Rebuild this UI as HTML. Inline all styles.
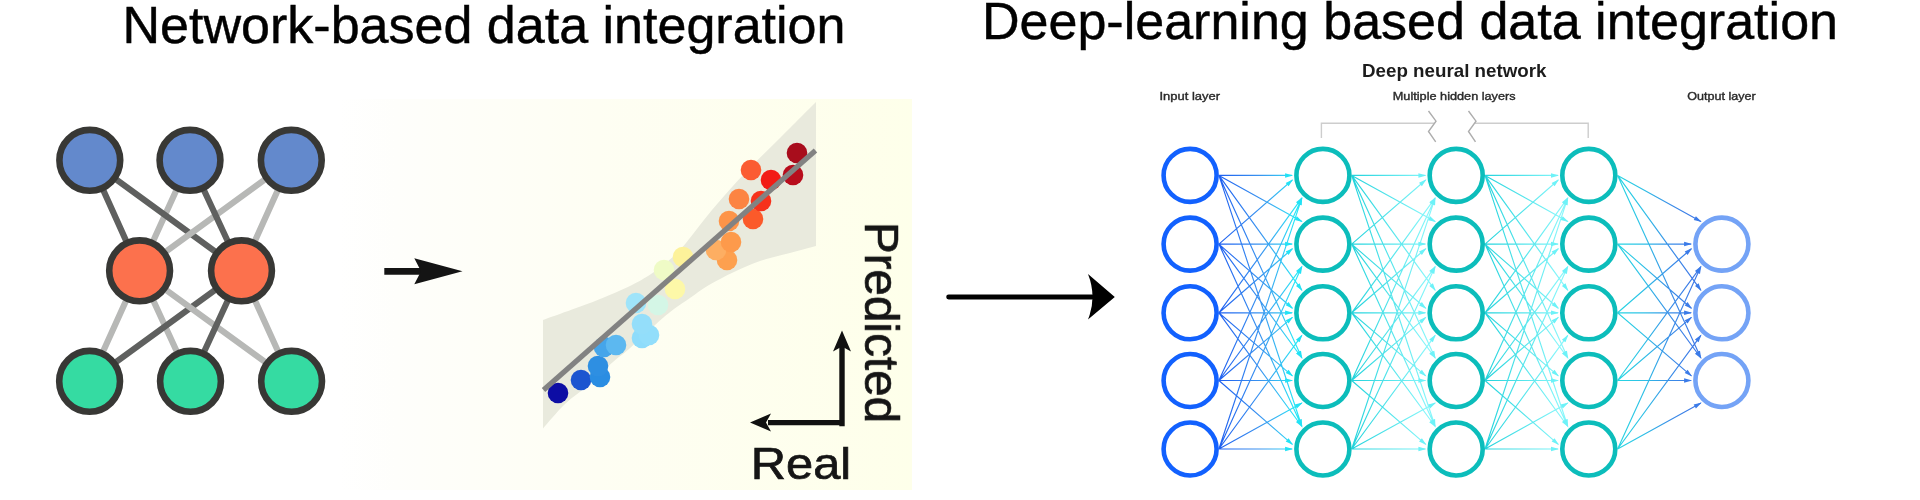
<!DOCTYPE html>
<html lang="en"><head><meta charset="utf-8"><title>Data integration</title>
<style>
html,body{margin:0;padding:0;background:#fff;}
body{width:1920px;height:500px;overflow:hidden;font-family:"Liberation Sans",Arial,sans-serif;}
svg{display:block;}
text{font-family:"Liberation Sans",Arial,sans-serif;}
</style></head><body>
<svg width="1920" height="500" viewBox="0 0 1920 500">
<defs>
<filter id="soft" x="-5%" y="-5%" width="110%" height="110%"><feGaussianBlur stdDeviation="0.7"/></filter>
<linearGradient id="ivory" x1="0" y1="0" x2="1" y2="0">
<stop offset="0" stop-color="#ffffff"/><stop offset="0.10" stop-color="#fefefb"/><stop offset="0.45" stop-color="#fefef3"/><stop offset="1" stop-color="#feffea"/>
</linearGradient>
<linearGradient id="g0" gradientUnits="userSpaceOnUse" x1="1218.9" y1="0" x2="1294.1" y2="0"><stop offset="0" stop-color="#1f5ff0"/><stop offset="0.55" stop-color="#3a94f0"/><stop offset="0.85" stop-color="#35c6f4"/><stop offset="1" stop-color="#28e4f6"/></linearGradient>
<linearGradient id="g1" gradientUnits="userSpaceOnUse" x1="1351.7" y1="0" x2="1427.4" y2="0"><stop offset="0" stop-color="#22d3dc"/><stop offset="1" stop-color="#86f6fa"/></linearGradient>
<linearGradient id="g2" gradientUnits="userSpaceOnUse" x1="1485.0" y1="0" x2="1560.0" y2="0"><stop offset="0" stop-color="#22d3dc"/><stop offset="1" stop-color="#86f6fa"/></linearGradient>
<linearGradient id="g3" gradientUnits="userSpaceOnUse" x1="1617.6" y1="0" x2="1693.1" y2="0"><stop offset="0" stop-color="#27d6e2"/><stop offset="0.35" stop-color="#2fbfe6"/><stop offset="0.7" stop-color="#3a8de8"/><stop offset="1" stop-color="#3c78e6"/></linearGradient>
</defs>
<rect x="0" y="0" width="1920" height="500" fill="#ffffff"/>
<!-- scatter panel background -->
<rect x="338" y="99" width="574" height="391" fill="url(#ivory)"/>

<g opacity="0.999">
<!-- titles -->
<text x="122.5" y="43.2" font-size="51.2" fill="#000" stroke="#000" stroke-width="0.45" textLength="723" lengthAdjust="spacingAndGlyphs">Network-based data integration</text>
<text x="982" y="39.4" font-size="51.2" fill="#000" stroke="#000" stroke-width="0.45" textLength="856" lengthAdjust="spacingAndGlyphs">Deep-learning based data integration</text>

<!-- left tri-layer network -->
<g filter="url(#soft)">
<g stroke-width="6.2" stroke-linecap="round" fill="none">
 <path stroke="#b7b8b6" d="M190 160.3L139.6 270.8M291.3 160.3L241.5 270.8"/>
 <path stroke="#5f615f" d="M89.8 160.3L139.6 270.8M89.8 160.3L241.5 270.8"/>
 <path stroke="#b7b8b6" d="M291.3 160.3L139.6 270.8"/>
 <path stroke="#5f615f" d="M190 160.3L241.5 270.8"/>
 <path stroke="#b7b8b6" d="M139.6 270.8L89.6 381.3M139.6 270.8L190.5 381.3M241.5 270.8L291.6 381.3"/>
 <path stroke="#5f615f" d="M241.5 270.8L89.6 381.3"/>
 <path stroke="#b7b8b6" d="M139.6 270.8L291.6 381.3"/>
 <path stroke="#5f615f" d="M241.5 270.8L190.5 381.3"/>
</g>
<g stroke="#383836" stroke-width="6.6">
 <circle cx="89.8" cy="160.3" r="30.4" fill="#6489cc"/>
 <circle cx="190" cy="160.3" r="30.4" fill="#6489cc"/>
 <circle cx="291.3" cy="160.3" r="30.4" fill="#6489cc"/>
 <circle cx="139.6" cy="270.8" r="30.4" fill="#fc714e"/>
 <circle cx="241.5" cy="270.8" r="30.4" fill="#fc714e"/>
 <circle cx="89.6" cy="381.3" r="30.4" fill="#34dba2"/>
 <circle cx="190.5" cy="381.3" r="30.4" fill="#34dba2"/>
 <circle cx="291.6" cy="381.3" r="30.4" fill="#34dba2"/>
</g>
</g>

<!-- small arrow -->
<path d="M384.3 268H421V274.7H384.3Z" fill="#141414"/>
<path d="M462.5 271.3L414.3 258.3L421 271.3L414.3 284.3Z" fill="#141414"/>

<!-- scatter: confidence band, points, fit line -->
<g filter="url(#soft)">
<path d="M543 320C547.8 318.2 562.5 313.0 572.0 309.5C581.5 306.0 590.0 303.1 600.0 299.0C610.0 294.9 623.0 289.5 632.0 285.0C641.0 280.5 647.0 276.8 654.0 272.0C661.0 267.2 668.7 260.8 674.0 256.0C679.3 251.2 679.7 250.7 686.0 243.0C692.3 235.3 702.3 221.5 712.0 210.0C721.7 198.5 732.7 186.0 744.0 174.0C755.3 162.0 768.0 150.0 780.0 138.0C792.0 126.0 810.0 108.0 816.0 102.0L816 246C811.7 247.2 799.3 250.5 790.0 253.0C780.7 255.5 769.3 257.8 760.0 261.0C750.7 264.2 742.5 268.0 734.0 272.0C725.5 276.0 716.3 280.7 709.0 285.0C701.7 289.3 695.8 294.0 690.0 298.0C684.2 302.0 678.3 305.8 674.0 309.0C669.7 312.2 667.3 314.2 664.0 317.0C660.7 319.8 659.8 320.7 654.0 326.0C648.2 331.3 635.8 343.0 629.0 349.0C622.2 355.0 619.7 356.1 613.0 362.0C606.3 367.9 597.0 377.5 589.0 384.5C581.0 391.5 572.7 396.7 565.0 404.0C557.3 411.3 546.7 424.4 543.0 428.5Z" fill="#e9eadd"/>
<circle cx="558" cy="393" r="10.3" fill="#0c0ca4"/>
<circle cx="581" cy="380" r="10.3" fill="#1f55d0"/>
<circle cx="600" cy="377" r="10.3" fill="#2c8de2"/>
<circle cx="598" cy="366" r="10.3" fill="#2f8fe2"/>
<circle cx="604" cy="347" r="10.3" fill="#45a5ea"/>
<circle cx="616" cy="345" r="10.3" fill="#5cb8f0"/>
<circle cx="642" cy="338" r="10.3" fill="#8edcfb"/>
<circle cx="649" cy="335" r="10.3" fill="#92defb"/>
<circle cx="642" cy="324" r="10.3" fill="#94defa"/>
<circle cx="636" cy="303" r="10.3" fill="#9fe4fa"/>
<circle cx="658" cy="305" r="10.3" fill="#d4f6e6"/>
<circle cx="675" cy="289" r="10.3" fill="#fdf8a8"/>
<circle cx="664" cy="270" r="10.3" fill="#effbc6"/>
<circle cx="683" cy="257" r="10.3" fill="#fdf29a"/>
<circle cx="727" cy="260" r="10.3" fill="#fda050"/>
<circle cx="716" cy="250" r="10.3" fill="#fdae62"/>
<circle cx="731" cy="242" r="10.3" fill="#fd9a4c"/>
<circle cx="729" cy="221" r="10.3" fill="#fd9448"/>
<circle cx="753" cy="219" r="10.3" fill="#fb5a2c"/>
<circle cx="739" cy="199" r="10.3" fill="#fc8442"/>
<circle cx="761" cy="201" r="10.3" fill="#f6321c"/>
<circle cx="751" cy="170" r="10.3" fill="#fb5c30"/>
<circle cx="771" cy="180" r="10.3" fill="#f21c14"/>
<circle cx="793" cy="175" r="10.3" fill="#b80a1c"/>
<circle cx="797" cy="153" r="10.3" fill="#a8081e"/>
<path d="M543.5 390L815.5 150.5" stroke="#828282" stroke-width="5.2" stroke-linecap="butt" fill="none"/>

</g>
<!-- axes -->
<path d="M842 426.2V345M844.6 422.6H768" stroke="#111" stroke-width="5.4" fill="none"/>
<path d="M842 330.5L833 351.5L842 346.5L851 351.5Z" fill="#111"/>
<path d="M750 422.6L771 413.6L766 422.6L771 431.6Z" fill="#111"/>
<text x="750.8" y="479" font-size="44.5" fill="#151515" stroke="#151515" stroke-width="0.7" textLength="100.4" lengthAdjust="spacingAndGlyphs">Real</text>
<text transform="translate(865 221.9) rotate(90)" font-size="48.5" fill="#151515" stroke="#151515" stroke-width="0.7" textLength="201.2" lengthAdjust="spacingAndGlyphs">Predicted</text>

<!-- big arrow -->
<path d="M948.6 297H1092" stroke="#000" stroke-width="4.8" stroke-linecap="round" fill="none"/>
<path d="M1114.8 297L1088 274Q1097 297 1088 319.5Z" fill="#000"/>

<!-- deep neural network -->
<text x="1362" y="76.7" font-size="18.5" font-weight="bold" fill="#1c1c1c" textLength="184.5" lengthAdjust="spacingAndGlyphs">Deep neural network</text>
<text x="1159.5" y="99.9" font-size="11.6" fill="#2a2a2a" stroke="#2a2a2a" stroke-width="0.4" textLength="60.5" lengthAdjust="spacingAndGlyphs">Input layer</text>
<text x="1392.8" y="99.9" font-size="11.6" fill="#2a2a2a" stroke="#2a2a2a" stroke-width="0.4" textLength="122.8" lengthAdjust="spacingAndGlyphs">Multiple hidden layers</text>
<text x="1687.3" y="99.9" font-size="11.6" fill="#2a2a2a" stroke="#2a2a2a" stroke-width="0.4" textLength="68.4" lengthAdjust="spacingAndGlyphs">Output layer</text>
<path d="M1321.4 138V123.2H1434M1475 123.2H1588.2V138" stroke="#cdcdcd" stroke-width="1.4" fill="none"/>
<path d="M1428.5 111L1436 121.2L1428.5 131.5L1435.7 141.8M1468.5 111L1476 121.2L1468.5 131.5L1475.5 141.8" stroke="#adadad" stroke-width="1.4" fill="none"/>
<path d="M1218.9 175.4L1292.1 175.4M1218.9 175.4L1301.9 221.6M1218.9 175.4L1301.9 290.3M1218.9 175.4L1301.9 358.0M1218.9 175.4L1301.9 426.5M1218.9 244.1L1292.4 180.0M1218.9 244.1L1292.1 244.1M1218.9 244.1L1292.4 308.2M1218.9 244.1L1301.9 358.0M1218.9 244.1L1301.9 426.5M1218.9 312.8L1301.9 197.9M1218.9 312.8L1292.4 248.7M1218.9 312.8L1292.1 312.8M1218.9 312.8L1292.4 375.9M1218.9 312.8L1301.9 426.5M1218.9 380.5L1301.9 197.9M1218.9 380.5L1301.9 266.6M1218.9 380.5L1292.4 317.4M1218.9 380.5L1292.1 380.5M1218.9 380.5L1292.4 444.4M1218.9 449.0L1301.9 197.9M1218.9 449.0L1301.9 266.6M1218.9 449.0L1301.9 335.3M1218.9 449.0L1301.9 403.0M1218.9 449.0L1292.1 449.0" stroke="url(#g0)" stroke-width="1.15" fill="none"/>
<path d="M1293.1 175.4L1285.1 177.7L1285.1 173.2ZM1302.8 222.1L1294.7 220.1L1296.9 216.2ZM1302.5 291.1L1296.0 285.9L1299.6 283.3ZM1302.3 358.9L1296.9 352.5L1301.0 350.7ZM1302.2 427.4L1297.6 420.5L1301.8 419.1ZM1293.2 179.3L1288.6 186.2L1285.7 182.9ZM1293.1 244.1L1285.1 246.3L1285.1 241.8ZM1293.2 308.9L1285.7 305.3L1288.6 302.0ZM1302.5 358.8L1296.0 353.6L1299.6 351.0ZM1302.3 427.4L1296.9 421.0L1301.0 419.2ZM1302.5 197.1L1299.6 204.9L1296.0 202.3ZM1293.2 248.0L1288.6 254.9L1285.7 251.6ZM1293.1 312.8L1285.1 315.1L1285.1 310.6ZM1293.2 376.6L1285.7 373.1L1288.6 369.7ZM1302.5 427.3L1295.9 422.1L1299.6 419.5ZM1302.3 197.0L1301.0 205.2L1296.9 203.4ZM1302.5 265.8L1299.6 273.6L1296.0 271.0ZM1293.2 316.7L1288.6 323.6L1285.7 320.2ZM1293.1 380.5L1285.1 382.8L1285.1 378.2ZM1293.2 445.1L1285.7 441.6L1288.6 438.2ZM1302.2 197.0L1301.8 205.3L1297.6 203.9ZM1302.3 265.7L1301.0 273.9L1296.9 272.1ZM1302.5 334.5L1299.6 342.3L1295.9 339.7ZM1302.8 402.5L1296.9 408.4L1294.7 404.4ZM1293.1 449.0L1285.1 451.2L1285.1 446.8Z" fill="#22e2f5"/>
<path d="M1351.7 175.4L1425.4 175.4M1351.7 175.4L1435.2 221.6M1351.7 175.4L1435.2 290.3M1351.7 175.4L1435.2 358.0M1351.7 175.4L1435.2 426.5M1351.7 244.1L1425.7 180.0M1351.7 244.1L1425.4 244.1M1351.7 244.1L1425.7 308.2M1351.7 244.1L1435.2 358.0M1351.7 244.1L1435.2 426.5M1351.7 312.8L1435.2 197.9M1351.7 312.8L1425.7 248.7M1351.7 312.8L1425.4 312.8M1351.7 312.8L1425.7 375.9M1351.7 312.8L1435.2 426.5M1351.7 380.5L1435.2 197.9M1351.7 380.5L1435.2 266.6M1351.7 380.5L1425.7 317.4M1351.7 380.5L1425.4 380.5M1351.7 380.5L1425.7 444.4M1351.7 449.0L1435.2 197.9M1351.7 449.0L1435.2 266.6M1351.7 449.0L1435.2 335.3M1351.7 449.0L1435.2 403.0M1351.7 449.0L1425.4 449.0" stroke="url(#g1)" stroke-width="1.15" fill="none"/>
<path d="M1426.4 175.4L1418.4 177.7L1418.4 173.2ZM1436.1 222.1L1428.0 220.2L1430.2 216.2ZM1435.8 291.1L1429.3 285.9L1432.9 283.3ZM1435.6 358.9L1430.2 352.5L1434.3 350.7ZM1435.5 427.4L1430.9 420.5L1435.1 419.1ZM1426.5 179.3L1421.9 186.2L1419.0 182.8ZM1426.4 244.1L1418.4 246.3L1418.4 241.8ZM1426.5 308.9L1419.0 305.4L1421.9 302.0ZM1435.8 358.8L1429.2 353.7L1432.9 351.0ZM1435.6 427.4L1430.2 421.0L1434.3 419.2ZM1435.8 197.1L1432.9 204.9L1429.3 202.3ZM1426.5 248.0L1421.9 254.9L1419.0 251.5ZM1426.4 312.8L1418.4 315.1L1418.4 310.6ZM1426.5 376.6L1419.0 373.1L1421.9 369.7ZM1435.8 427.3L1429.2 422.2L1432.9 419.5ZM1435.6 197.0L1434.3 205.2L1430.2 203.4ZM1435.8 265.8L1432.9 273.6L1429.2 270.9ZM1426.5 316.7L1421.9 323.6L1419.0 320.2ZM1426.4 380.5L1418.4 382.8L1418.4 378.2ZM1426.5 445.1L1419.0 441.6L1421.9 438.2ZM1435.5 197.0L1435.1 205.3L1430.9 203.9ZM1435.6 265.7L1434.3 273.9L1430.2 272.1ZM1435.8 334.5L1432.9 342.3L1429.2 339.6ZM1436.1 402.5L1430.1 408.4L1428.0 404.4ZM1426.4 449.0L1418.4 451.2L1418.4 446.8Z" fill="#6df2f8"/>
<path d="M1485.0 175.4L1558.0 175.4M1485.0 175.4L1567.8 221.6M1485.0 175.4L1567.8 290.3M1485.0 175.4L1567.8 358.0M1485.0 175.4L1567.8 426.5M1485.0 244.1L1558.3 180.0M1485.0 244.1L1558.0 244.1M1485.0 244.1L1558.3 308.2M1485.0 244.1L1567.8 358.0M1485.0 244.1L1567.8 426.5M1485.0 312.8L1567.8 197.9M1485.0 312.8L1558.3 248.7M1485.0 312.8L1558.0 312.8M1485.0 312.8L1558.3 375.9M1485.0 312.8L1567.8 426.5M1485.0 380.5L1567.8 197.9M1485.0 380.5L1567.8 266.6M1485.0 380.5L1558.3 317.4M1485.0 380.5L1558.0 380.5M1485.0 380.5L1558.3 444.4M1485.0 449.0L1567.8 197.9M1485.0 449.0L1567.8 266.6M1485.0 449.0L1567.8 335.3M1485.0 449.0L1567.8 403.0M1485.0 449.0L1558.0 449.0" stroke="url(#g2)" stroke-width="1.15" fill="none"/>
<path d="M1559.0 175.4L1551.0 177.7L1551.0 173.2ZM1568.7 222.1L1560.6 220.1L1562.8 216.2ZM1568.4 291.1L1561.9 285.9L1565.5 283.3ZM1568.2 358.9L1562.9 352.5L1567.0 350.7ZM1568.1 427.4L1563.5 420.5L1567.7 419.1ZM1559.1 179.3L1554.6 186.3L1551.6 182.9ZM1559.0 244.1L1551.0 246.3L1551.0 241.8ZM1559.1 308.9L1551.6 305.3L1554.6 301.9ZM1568.4 358.8L1561.9 353.6L1565.5 351.0ZM1568.2 427.4L1562.9 421.0L1566.9 419.2ZM1568.4 197.1L1565.5 204.9L1561.9 202.3ZM1559.1 248.0L1554.6 255.0L1551.6 251.6ZM1559.0 312.8L1551.0 315.1L1551.0 310.6ZM1559.1 376.6L1551.6 373.1L1554.5 369.7ZM1568.4 427.3L1561.9 422.1L1565.5 419.5ZM1568.2 197.0L1567.0 205.2L1562.9 203.4ZM1568.4 265.8L1565.5 273.6L1561.9 271.0ZM1559.1 316.7L1554.5 323.6L1551.6 320.2ZM1559.0 380.5L1551.0 382.8L1551.0 378.2ZM1559.1 445.1L1551.6 441.5L1554.5 438.2ZM1568.1 197.0L1567.7 205.3L1563.5 203.9ZM1568.2 265.7L1566.9 273.9L1562.9 272.1ZM1568.4 334.5L1565.5 342.3L1561.9 339.7ZM1568.7 402.5L1562.8 408.4L1560.6 404.5ZM1559.0 449.0L1551.0 451.2L1551.0 446.8Z" fill="#6df2f8"/>
<path d="M1617.6 175.4L1700.9 221.6M1617.6 175.4L1700.9 290.3M1617.6 175.4L1700.9 358.0M1617.6 244.1L1691.1 244.1M1617.6 244.1L1691.4 308.2M1617.6 244.1L1700.9 358.0M1617.6 312.8L1691.4 248.7M1617.6 312.8L1691.1 312.8M1617.6 312.8L1691.4 375.9M1617.6 380.5L1700.9 266.6M1617.6 380.5L1691.4 317.4M1617.6 380.5L1691.1 380.5M1617.6 449.0L1700.9 266.6M1617.6 449.0L1700.9 335.3M1617.6 449.0L1700.9 403.0" stroke="url(#g3)" stroke-width="1.15" fill="none"/>
<path d="M1701.8 222.1L1693.7 220.1L1695.9 216.2ZM1701.5 291.1L1695.0 285.9L1698.6 283.3ZM1701.3 358.9L1695.9 352.5L1700.0 350.7ZM1692.1 244.1L1684.1 246.3L1684.1 241.8ZM1692.2 308.9L1684.7 305.4L1687.6 302.0ZM1701.5 358.8L1694.9 353.7L1698.6 351.0ZM1692.2 248.0L1687.6 254.9L1684.7 251.5ZM1692.1 312.8L1684.1 315.1L1684.1 310.6ZM1692.2 376.6L1684.7 373.1L1687.6 369.7ZM1701.5 265.8L1698.6 273.6L1694.9 270.9ZM1692.2 316.7L1687.6 323.6L1684.7 320.2ZM1692.1 380.5L1684.1 382.8L1684.1 378.2ZM1701.3 265.7L1700.0 273.9L1695.9 272.1ZM1701.5 334.5L1698.6 342.3L1694.9 339.6ZM1701.8 402.5L1695.9 408.4L1693.7 404.4Z" fill="#3b7be8"/>
<circle cx="1190.1" cy="175.4" r="26.5" fill="#fff" stroke="#1261fe" stroke-width="4.6"/>
<circle cx="1190.1" cy="244.1" r="26.5" fill="#fff" stroke="#1261fe" stroke-width="4.6"/>
<circle cx="1190.1" cy="312.8" r="26.5" fill="#fff" stroke="#1261fe" stroke-width="4.6"/>
<circle cx="1190.1" cy="380.5" r="26.5" fill="#fff" stroke="#1261fe" stroke-width="4.6"/>
<circle cx="1190.1" cy="449.0" r="26.5" fill="#fff" stroke="#1261fe" stroke-width="4.6"/>
<circle cx="1322.9" cy="175.4" r="26.5" fill="#fff" stroke="#0cbdbb" stroke-width="4.6"/>
<circle cx="1322.9" cy="244.1" r="26.5" fill="#fff" stroke="#0cbdbb" stroke-width="4.6"/>
<circle cx="1322.9" cy="312.8" r="26.5" fill="#fff" stroke="#0cbdbb" stroke-width="4.6"/>
<circle cx="1322.9" cy="380.5" r="26.5" fill="#fff" stroke="#0cbdbb" stroke-width="4.6"/>
<circle cx="1322.9" cy="449.0" r="26.5" fill="#fff" stroke="#0cbdbb" stroke-width="4.6"/>
<circle cx="1456.2" cy="175.4" r="26.5" fill="#fff" stroke="#0cbdbb" stroke-width="4.6"/>
<circle cx="1456.2" cy="244.1" r="26.5" fill="#fff" stroke="#0cbdbb" stroke-width="4.6"/>
<circle cx="1456.2" cy="312.8" r="26.5" fill="#fff" stroke="#0cbdbb" stroke-width="4.6"/>
<circle cx="1456.2" cy="380.5" r="26.5" fill="#fff" stroke="#0cbdbb" stroke-width="4.6"/>
<circle cx="1456.2" cy="449.0" r="26.5" fill="#fff" stroke="#0cbdbb" stroke-width="4.6"/>
<circle cx="1588.8" cy="175.4" r="26.5" fill="#fff" stroke="#0cbdbb" stroke-width="4.6"/>
<circle cx="1588.8" cy="244.1" r="26.5" fill="#fff" stroke="#0cbdbb" stroke-width="4.6"/>
<circle cx="1588.8" cy="312.8" r="26.5" fill="#fff" stroke="#0cbdbb" stroke-width="4.6"/>
<circle cx="1588.8" cy="380.5" r="26.5" fill="#fff" stroke="#0cbdbb" stroke-width="4.6"/>
<circle cx="1588.8" cy="449.0" r="26.5" fill="#fff" stroke="#0cbdbb" stroke-width="4.6"/>
<circle cx="1721.9" cy="244.1" r="26.5" fill="#fff" stroke="#74a3f6" stroke-width="4.6"/>
<circle cx="1721.9" cy="312.8" r="26.5" fill="#fff" stroke="#74a3f6" stroke-width="4.6"/>
<circle cx="1721.9" cy="380.5" r="26.5" fill="#fff" stroke="#74a3f6" stroke-width="4.6"/>
</g>
</svg>
</body></html>
